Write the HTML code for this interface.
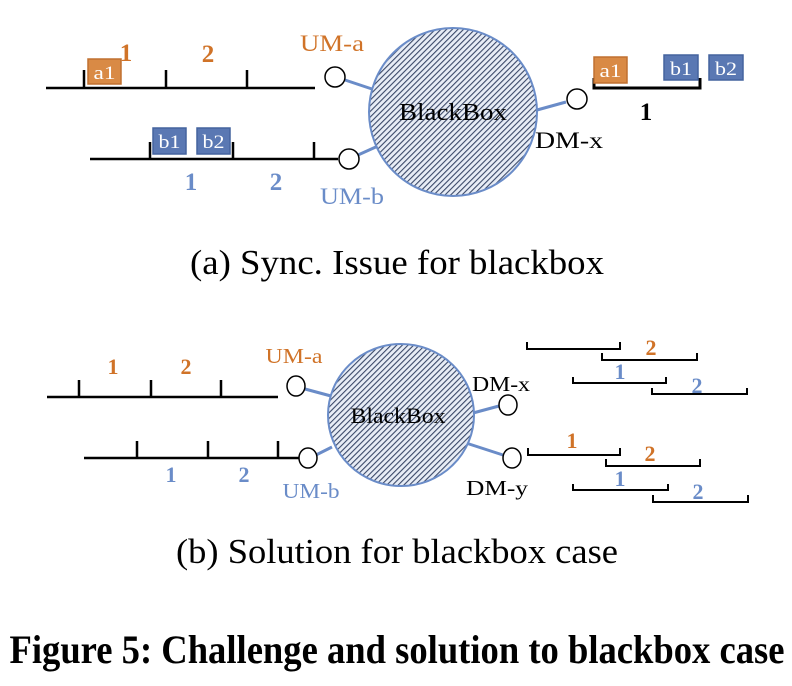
<!DOCTYPE html>
<html><head><meta charset="utf-8"><style>
html,body{margin:0;padding:0;background:#fff}
svg{display:block}
text{font-family:"Liberation Serif",serif}
</style></head><body>
<svg width="792" height="686" viewBox="0 0 792 686" xmlns="http://www.w3.org/2000/svg">
<defs>
<pattern id="h" patternUnits="userSpaceOnUse" width="4" height="4" patternTransform="rotate(45)">
<rect width="4" height="4" fill="#e8edf6"/>
<rect width="1.1" height="4" fill="#3a4868"/>
</pattern>
</defs>
<g stroke="#000" stroke-width="2.5" fill="none">
<path d="M46 88H315M84 70V88M166 70V88M247 70V88"/>
<path d="M90 159H338M150 142V159M233 142V159M314 142V159"/>
<path d="M594 78V88H700V78" stroke-width="3"/>
</g>
<g stroke="#6a8cc8" stroke-width="3">
<line x1="345" y1="80" x2="372" y2="89"/>
<line x1="358" y1="155" x2="378" y2="146"/>
<line x1="537" y1="110" x2="566" y2="102"/>
</g>
<circle cx="453" cy="112" r="84" fill="url(#h)" stroke="#6a8cc8" stroke-width="2"/>
<g fill="#fff" stroke="#000" stroke-width="1.5">
<circle cx="335" cy="77" r="10"/><circle cx="349" cy="159" r="10"/><circle cx="577" cy="99" r="10"/>
</g>
<g font-size="19" fill="#fff" text-anchor="middle">
<rect x="88" y="59" width="33" height="25" fill="#d98a45" stroke="#c07030" stroke-width="1.5"/><text x="104.5" y="79" textLength="22" lengthAdjust="spacingAndGlyphs">a1</text>
<rect x="153" y="128" width="33" height="26" fill="#5a78b3" stroke="#44639e" stroke-width="1.5"/><text x="169.5" y="148" textLength="22" lengthAdjust="spacingAndGlyphs">b1</text>
<rect x="197" y="128" width="33" height="26" fill="#5a78b3" stroke="#44639e" stroke-width="1.5"/><text x="213.5" y="148" textLength="22" lengthAdjust="spacingAndGlyphs">b2</text>
<rect x="594" y="57" width="33" height="26" fill="#d98a45" stroke="#c07030" stroke-width="1.5"/><text x="610.5" y="77" textLength="22" lengthAdjust="spacingAndGlyphs">a1</text>
<rect x="664" y="55" width="34" height="25" fill="#5a78b3" stroke="#44639e" stroke-width="1.5"/><text x="681" y="75" textLength="22" lengthAdjust="spacingAndGlyphs">b1</text>
<rect x="709" y="55" width="34" height="25" fill="#5a78b3" stroke="#44639e" stroke-width="1.5"/><text x="726" y="75" textLength="22" lengthAdjust="spacingAndGlyphs">b2</text>
</g>
<g font-size="25" font-weight="bold" fill="#d07328" text-anchor="middle">
<text x="126" y="61">1</text><text x="208" y="62">2</text>
</g>
<g font-size="25" font-weight="bold" fill="#6a8cc8" text-anchor="middle">
<text x="191" y="190">1</text><text x="276" y="190">2</text>
</g>
<text x="646" y="120" font-size="25" font-weight="bold" text-anchor="middle">1</text>
<text x="332" y="51" font-size="23" fill="#d07328" text-anchor="middle" textLength="64" lengthAdjust="spacingAndGlyphs">UM-a</text>
<text x="352" y="204" font-size="23" fill="#6a8cc8" text-anchor="middle" textLength="64" lengthAdjust="spacingAndGlyphs">UM-b</text>
<text x="569" y="148" font-size="23" text-anchor="middle" textLength="68" lengthAdjust="spacingAndGlyphs">DM-x</text>
<text x="453" y="120" font-size="24" text-anchor="middle" textLength="108" lengthAdjust="spacingAndGlyphs">BlackBox</text>
<text x="397" y="274" font-size="35" text-anchor="middle" textLength="414" lengthAdjust="spacingAndGlyphs">(a) Sync. Issue for blackbox</text>

<!-- (b) -->
<g stroke="#000" stroke-width="2.5" fill="none">
<path d="M47 397H278M79 380V397M151 380V397M221 380V397"/>
<path d="M84 458H300M137 441V458M208 441V458M278 441V458"/>
<g stroke-width="2">
<path d="M527 342V349H620V342"/><path d="M602 353V360H697V353"/>
<path d="M573 377V383H666V377"/><path d="M652 388V394H747V388"/>
<path d="M528 448V455H620V448"/><path d="M606 459V466H700V459"/>
<path d="M573 484V490H668V484"/><path d="M653 495V502H748V495"/>
</g>
</g>
<g stroke="#6a8cc8" stroke-width="3">
<line x1="305" y1="389" x2="331" y2="396"/>
<line x1="316" y1="455" x2="332" y2="447"/>
<line x1="473" y1="413" x2="499" y2="406"/>
<line x1="466" y1="443" x2="503" y2="455"/>
</g>
<ellipse cx="401" cy="415" rx="73" ry="71" fill="url(#h)" stroke="#6a8cc8" stroke-width="2"/>
<g fill="#fff" stroke="#000" stroke-width="1.5">
<ellipse cx="296" cy="386" rx="9" ry="10"/><ellipse cx="308" cy="458" rx="9" ry="10"/>
<ellipse cx="508" cy="405" rx="9" ry="10"/><ellipse cx="512" cy="458" rx="9" ry="10"/>
</g>
<g font-size="22" font-weight="bold" fill="#d07328" text-anchor="middle">
<text x="113" y="374">1</text><text x="186" y="374">2</text>
<text x="651" y="355">2</text><text x="572" y="448">1</text><text x="650" y="461">2</text>
</g>
<g font-size="22" font-weight="bold" fill="#6a8cc8" text-anchor="middle">
<text x="171" y="482">1</text><text x="244" y="482">2</text>
<text x="620" y="379">1</text><text x="697" y="393">2</text>
<text x="620" y="486">1</text><text x="698" y="499">2</text>
</g>
<text x="294" y="363" font-size="21" fill="#d07328" text-anchor="middle" textLength="57" lengthAdjust="spacingAndGlyphs">UM-a</text>
<text x="311" y="498" font-size="21" fill="#6a8cc8" text-anchor="middle" textLength="57" lengthAdjust="spacingAndGlyphs">UM-b</text>
<text x="501" y="391" font-size="21" text-anchor="middle" textLength="58" lengthAdjust="spacingAndGlyphs">DM-x</text>
<text x="497" y="495" font-size="21" text-anchor="middle" textLength="62" lengthAdjust="spacingAndGlyphs">DM-y</text>
<text x="398" y="423" font-size="22" text-anchor="middle" textLength="95" lengthAdjust="spacingAndGlyphs">BlackBox</text>
<text x="397" y="563" font-size="35" text-anchor="middle" textLength="442" lengthAdjust="spacingAndGlyphs">(b) Solution for blackbox case</text>
<text x="397" y="663" font-size="40" font-weight="bold" text-anchor="middle" textLength="775" lengthAdjust="spacingAndGlyphs">Figure 5: Challenge and solution to blackbox case</text>
</svg>
</body></html>
